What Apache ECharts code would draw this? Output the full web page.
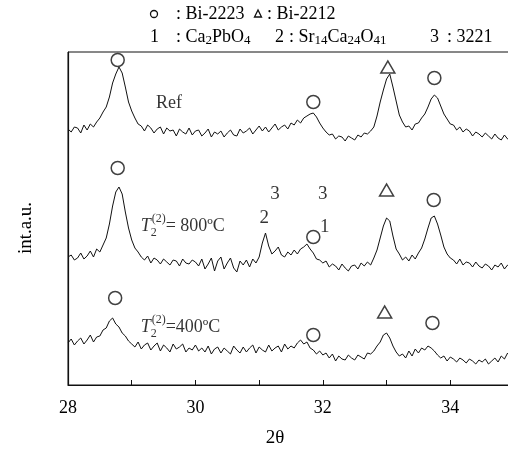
<!DOCTYPE html>
<html>
<head>
<meta charset="utf-8">
<script src="https://cdn.jsdelivr.net/npm/echarts@6/dist/echarts.min.js"></script>
<style>
  html, body { margin: 0; padding: 0; background: #fff; }
  #chart { width: 508px; height: 454px; }
</style>
</head>
<body>
<div id="chart"></div>
<script>
// XRD scan grid (degrees 2θ)
const scanStart = 28.0;
const scanStep = 0.05;

// Intensities (arbitrary units) of each pattern, one value per scan step
const refCounts = [
  16,13,18,17,12,20,15,21,18,23, 27,33,38,48,62,71,78,72,58,43,
  34,27,21,19,14,20,17,12,16,18, 11,17,14,15,9,16,13,11,17,10,
  14,15,9,12,16,8,13,11,14,8, 12,15,10,9,16,12,14,17,11,15,
  19,14,18,13,17,21,15,18,20,16, 22,20,25,22,27,29,31,32,28,22,
  17,13,10,11,6,9,8,4,9,7, 5,10,8,12,11,14,18,29,43,55,
  66,71,58,44,30,23,18,19,15,21, 22,27,31,38,46,50,47,39,31,26,
  21,20,15,18,13,16,14,9,13,11, 8,12,9,6,11,7,5,10,6,8,5
];
const t800Counts = [
  18,20,15,17,22,16,19,24,18,26, 23,30,37,51,69,83,88,81,63,47,
  35,27,23,18,15,19,12,17,15,11, 16,13,10,15,14,9,16,12,11,15,
  13,9,16,6,11,17,4,14,18,6, 12,17,7,3,14,10,15,8,16,12,
  18,32,42,29,21,24,28,20,18,23, 20,25,21,26,28,31,26,22,16,15,
  12,14,8,11,9,5,11,7,4,9, 10,6,12,9,13,10,17,25,37,49,
  57,54,39,26,21,15,18,14,20,16, 22,27,36,47,57,59,51,40,28,21,
  17,15,11,16,10,13,12,8,13,9, 7,11,9,5,10,8,12,6,10,13,8
];
const t400Counts = [
  27,31,25,29,32,26,30,35,28,33, 34,40,42,49,52,46,43,37,34,29,
  26,23,28,21,25,27,20,24,27,19, 25,22,18,26,21,23,26,18,22,20,
  25,19,22,18,24,16,21,23,17,22, 19,16,24,20,17,23,18,22,25,17,
  23,20,18,25,19,22,24,18,26,21, 24,22,27,30,26,28,22,20,16,19,
  15,17,12,16,9,14,11,10,15,12, 10,15,13,11,17,16,19,24,28,35,
  37,32,24,18,14,16,12,19,14,21, 17,22,20,24,22,19,15,12,14,9,
  13,11,8,12,10,7,11,9,6,10, 8,11,6,9,12,8,14,11,17,13,16
];

// Vertical stacking offset of each pattern
const patternOffsets = { ref: 240, t800: 110, t400: 15 };

// Axis ticks (degrees)
const xTickLabels = [28, 30, 32, 34];

// Phase identification marks [2θ, level]
const bi2223Marks = [
  [28.78, 325], [31.85, 283], [33.75, 307],
  [28.78, 217], [31.85, 148], [33.74, 185],
  [28.74, 87],  [31.85, 50],  [33.72, 62]
];
const bi2212Marks = [[33.02, 318], [33.00, 195], [32.97, 73]];
const phaseNumbers = [
  ['3', 31.25, 191], ['3', 32.00, 191],
  ['2', 31.08, 167], ['1', 32.03, 158]
];
const sampleLabels = [
  { text: '{n|Ref}', x: 29.38, y: 282 },
  { text: '{i|T}{sb|2}{sp|(2)}{n|= 800ºC}', x: 29.14, y: 159 },
  { text: '{i|T}{sb|2}{sp|(2)}{n|=400ºC}', x: 29.14, y: 58 }
];

const SERIF = '"Liberation Serif", "DejaVu Serif", serif';

function toPoints(counts, offset) {
  return counts.map((c, i) => [+(scanStart + i * scanStep).toFixed(2), c + offset]);
}

const richStyles = {
  n: { fontFamily: SERIF, fontSize: 18, color: '#000', lineHeight: 26 },
  i: { fontFamily: SERIF, fontSize: 18, fontStyle: 'italic', color: '#000', lineHeight: 26 },
  sb: { fontFamily: SERIF, fontSize: 12, color: '#000', verticalAlign: 'bottom', width: 1, lineHeight: 14 },
  sp: { fontFamily: SERIF, fontSize: 12, color: '#000', verticalAlign: 'top', lineHeight: 14 }
};

const keyRich = {
  n: { font: '18px ' + SERIF, fill: '#000', lineHeight: 20 },
  s: { font: '13px ' + SERIF, fill: '#000', verticalAlign: 'bottom', lineHeight: 16 }
};

const chart = echarts.init(document.getElementById('chart'), null, { renderer: 'canvas' });

const lineStyle = { color: '#111', width: 1 };

chart.setOption({
  animation: false,
  backgroundColor: '#fff',
  grid: {
    left: 68, top: 52, width: 446, height: 333,
    outerBoundsMode: 'none', containLabel: false,
    show: true, borderColor: '#111', borderWidth: 1, backgroundColor: 'transparent'
  },
  xAxis: {
    type: 'value', min: 28, max: 35, interval: 1,
    axisLine: { show: true, lineStyle: { color: '#111', width: 1.2 } },
    axisTick: { show: true, inside: true, length: 5, lineStyle: { color: '#111' } },
    splitLine: { show: false },
    axisLabel: {
      margin: 14, color: '#000', fontFamily: SERIF, fontSize: 18,
      formatter: v => (xTickLabels.includes(v) ? String(v) : '')
    }
  },
  yAxis: {
    type: 'value', min: 0, max: 333,
    axisLine: { show: true, lineStyle: { color: '#111', width: 1.2 } },
    axisTick: { show: false }, axisLabel: { show: false }, splitLine: { show: false }
  },
  series: [
    { type: 'line', data: toPoints(refCounts, patternOffsets.ref), showSymbol: false, lineStyle, silent: true },
    { type: 'line', data: toPoints(t800Counts, patternOffsets.t800), showSymbol: false, lineStyle, silent: true },
    { type: 'line', data: toPoints(t400Counts, patternOffsets.t400), showSymbol: false, lineStyle, silent: true },
    {
      type: 'scatter', data: bi2223Marks, symbol: 'circle', symbolSize: 13,
      itemStyle: { color: 'rgba(0,0,0,0)', borderColor: '#111', borderWidth: 1.5 }
    },
    {
      type: 'scatter', data: bi2212Marks, symbol: 'triangle', symbolSize: [14, 12],
      itemStyle: { color: 'rgba(0,0,0,0)', borderColor: '#111', borderWidth: 1.5 }
    },
    {
      type: 'scatter', symbolSize: 0,
      data: phaseNumbers.map(p => ({ name: p[0], value: [p[1], p[2]] })),
      label: { show: true, position: 'inside', formatter: '{b}', fontFamily: SERIF, fontSize: 19, color: '#000' }
    },
    {
      type: 'scatter', symbolSize: 0,
      data: sampleLabels.map(s => ({ name: s.text, value: [s.x, s.y] })),
      label: {
        show: true, position: 'right', distance: 0, formatter: '{b}',
        rich: richStyles
      }
    }
  ],
  graphic: [
    // Header key, first line
    { type: 'circle', shape: { cx: 154, cy: 14, r: 3.5 }, style: { fill: 'none', stroke: '#111', lineWidth: 1.3 } },
    { type: 'text', x: 176, y: 14, style: { text: ': Bi-2223', font: '18px ' + SERIF, fill: '#000', textVerticalAlign: 'middle' } },
    { type: 'polygon', shape: { points: [[258, 10], [254.5, 17], [261.5, 17]] }, style: { fill: 'none', stroke: '#111', lineWidth: 1.3 } },
    { type: 'text', x: 267, y: 14, style: { text: ': Bi-2212', font: '18px ' + SERIF, fill: '#000', textVerticalAlign: 'middle' } },
    // Header key, second line
    { type: 'text', x: 150, y: 37, style: { text: '1', font: '18px ' + SERIF, fill: '#000', textVerticalAlign: 'middle' } },
    { type: 'text', x: 176, y: 37, style: { text: '{n|: Ca}{s|2}{n|PbO}{s|4}', textVerticalAlign: 'middle', rich: keyRich } },
    { type: 'text', x: 275, y: 37, style: { text: '2', font: '18px ' + SERIF, fill: '#000', textVerticalAlign: 'middle' } },
    { type: 'text', x: 289, y: 37, style: { text: '{n|: Sr}{s|14}{n|Ca}{s|24}{n|O}{s|41}', textVerticalAlign: 'middle', rich: keyRich } },
    { type: 'text', x: 430, y: 37, style: { text: '3', font: '18px ' + SERIF, fill: '#000', textVerticalAlign: 'middle' } },
    { type: 'text', x: 447, y: 37, style: { text: ': 3221', font: '18px ' + SERIF, fill: '#000', textVerticalAlign: 'middle' } },
    // Axis titles
    { type: 'text', x: 275, y: 438, style: { text: '2θ', font: '19px ' + SERIF, fill: '#000', textAlign: 'center', textVerticalAlign: 'middle' } },
    { type: 'text', x: 26, y: 228, rotation: Math.PI / 2, style: { text: 'int.a.u.', font: '19px ' + SERIF, fill: '#000', textAlign: 'center', textVerticalAlign: 'middle' } }
  ]
});
</script>
</body>
</html>
